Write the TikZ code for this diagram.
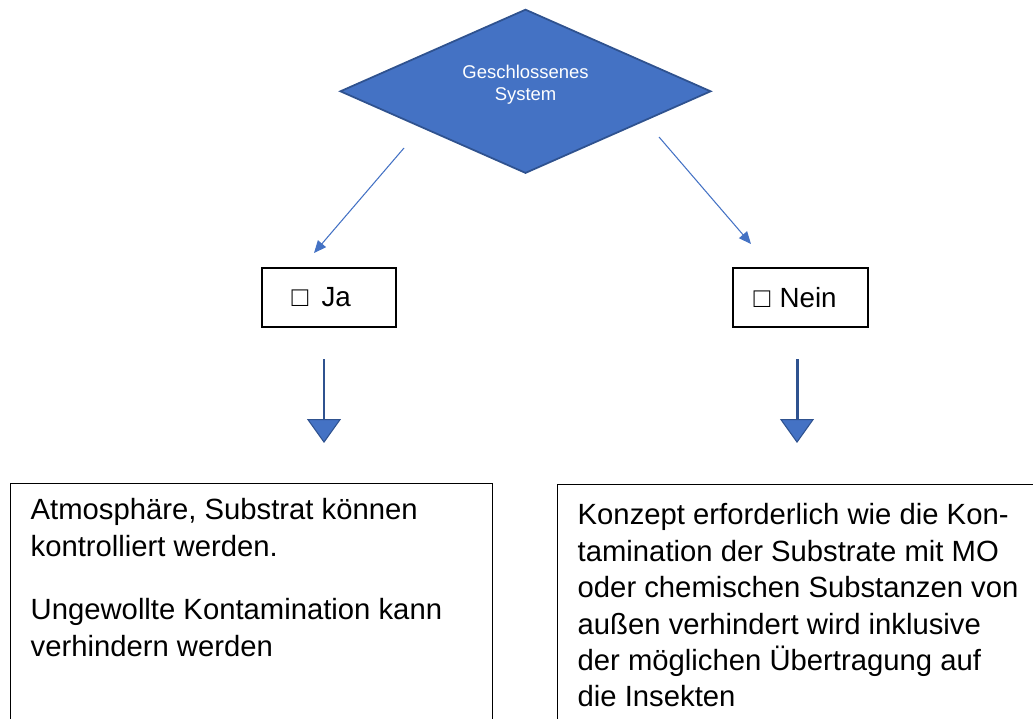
\documentclass[tikz,border=0pt]{standalone}
\usepackage{fontspec}
\setmainfont{Liberation Sans}
\usetikzlibrary{arrows.meta,positioning,shapes.geometric}
\definecolor{flowblue}{HTML}{4472C4}
\definecolor{flowedge}{HTML}{2F528F}

\begin{document}
\begin{tikzpicture}[x=0.02cm, y=-0.02cm, line width=0.8pt,
    decision/.style={diamond, aspect=2.26, draw=flowedge, fill=flowblue, line width=1pt,
      text=white, align=center, inner sep=0pt, minimum width=7.42cm,
      minimum height=3.28cm, text depth=10pt,
      font=\fontsize{10.5}{12.5}\selectfont},
    answer/.style={draw=black, rectangle, minimum height=1.18cm, align=left,
      font=\fontsize{15.8}{18}\selectfont},
    outcome/.style={draw=black, rectangle, anchor=north west, minimum height=6cm},
    outtext/.style={anchor=north west, inner sep=0pt, align=left,
      font=\fontsize{16.65}{20.7}\selectfont},
    thinarrow/.style={draw=flowblue, line width=0.6pt, -{Triangle[length=7pt, width=6pt]}},
    downarrow/.style={draw=flowedge, line width=1.7pt,
      -{Triangle[length=0.48cm, width=0.68cm, fill=flowblue, line width=0.6pt]}}]
  \useasboundingbox (0,0) rectangle (1033,719);
  \clip (0,0) rectangle (1033,719);

  % question
  \node[decision] (system) at (525.5,91.3) {Geschlossenes\\System};

  % answers
  \node[answer, inner xsep=0.59cm, text width=1.5cm] (ja) at (329,297.5) {□\ \hspace{0.08cm}Ja};
  \node[answer, inner xsep=0.41cm, text width=1.88cm] (nein) at (800.5,297.5) {□ Nein};

  \coordinate (jaFrom) at (404,148);
  \coordinate (jaTo) at (314,253);
  \coordinate (neinFrom) at (659,137);
  \coordinate (neinTo) at (751,244);
  \draw[thinarrow] (jaFrom) -- (jaTo);
  \draw[thinarrow] (neinFrom) -- (neinTo);

  % big arrows down to the outcomes
  \foreach \side/\xpos in {ja/324, nein/797}{
    \coordinate (\side Top) at (\xpos,359);
    \coordinate (\side Tip) at (\xpos,443);
    \draw[downarrow] (\side Top) -- (\side Tip);
  }

  % outcomes
  \node[outcome, minimum width=9.64cm] (jabox) at (10,483) {};
  \node[outcome, minimum width=10.4cm] (neinbox) at (557,484) {};
  \node[outtext] (jatext) at (30,498)
    {Atmosphäre, Substrat können\\kontrolliert werden.\\[15.5pt]Ungewollte Kontamination kann\\verhindern werden};
  \node[outtext] (neintext) at (577,503)
    {Konzept erforderlich wie die Kon-\\tamination der Substrate mit MO\\oder chemischen Substanzen von\\außen verhindert wird inklusive\\der möglichen Übertragung auf\\die Insekten};
\end{tikzpicture}
\end{document}
